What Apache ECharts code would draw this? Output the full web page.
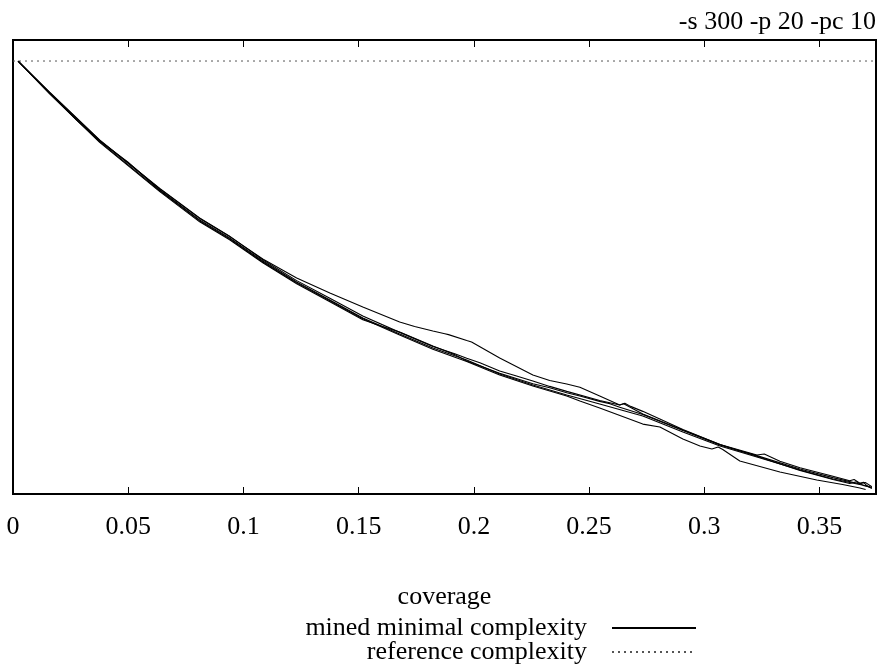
<!DOCTYPE html>
<html>
<head>
<meta charset="utf-8">
<script src="https://cdn.jsdelivr.net/npm/echarts@6/dist/echarts.min.js"></script>
<style>
html,body{margin:0;padding:0;background:#fff;}
#chart{width:877px;height:664px;}
</style>
</head>
<body>
<div id="chart"></div>
<script>
// ---- data ----
var titleText = '-s 300 -p 20 -pc 10';
var xAxisName = 'coverage';
var minedName = 'mined minimal complexity';
var refName = 'reference complexity';
var xTickLabels = ['0', '0.05', '0.1', '0.15', '0.2', '0.25', '0.3', '0.35'];
var xTickStep = 0.05;
var xMax = 0.3745;
var yMax = 100;

var referenceComplexity = 95.37;

// five mined runs: [coverage, complexity]
var run1 = [[0.0022,95.37],[0.0159,88.33],[0.0276,82.38],[0.0376,77.75],[0.0498,73.13],[0.0637,66.96],[0.0810,60.35],[0.0940,56.39],[0.1084,51.32],[0.1231,46.70],[0.1375,42.73],[0.1518,38.77],[0.1678,35.24],[0.1822,32.16],[0.1969,29.52],[0.2112,26.43],[0.2256,24.01],[0.2403,21.81],[0.2546,19.82],[0.2655,18.30],[0.2733,17.18],[0.2907,13.66],[0.3068,10.57],[0.3228,8.15],[0.3415,5.29],[0.3558,3.30],[0.3706,1.76],[0.3727,1.20]];
var run2 = [[0.0022,95.37],[0.0159,88.15],[0.0376,77.45],[0.0637,66.60],[0.0810,59.95],[0.0940,56.00],[0.1084,50.95],[0.1231,46.30],[0.1375,42.35],[0.1518,38.40],[0.1600,36.95],[0.1678,35.70],[0.1822,32.60],[0.1917,30.70],[0.1969,29.30],[0.2112,26.60],[0.2256,24.30],[0.2329,23.40],[0.2403,22.30],[0.2460,21.60],[0.2546,20.40],[0.2590,19.90],[0.2633,19.10],[0.2733,17.50],[0.2907,14.00],[0.3068,10.80],[0.3154,9.50],[0.3228,8.45],[0.3415,5.50],[0.3558,3.60],[0.3675,2.20],[0.3690,2.60],[0.3706,1.80],[0.3727,1.40]];
var run3 = [[0.0022,95.37],[0.0159,88.50],[0.0376,78.00],[0.0637,67.30],[0.0810,60.80],[0.0940,56.80],[0.1084,51.60],[0.1231,47.00],[0.1375,43.10],[0.1518,39.20],[0.1678,35.60],[0.1822,32.50],[0.1917,30.90],[0.1969,29.90],[0.2026,28.90],[0.2112,27.10],[0.2178,26.10],[0.2256,24.90],[0.2329,23.70],[0.2403,22.60],[0.2546,20.60],[0.2633,19.60],[0.2655,20.00],[0.2680,19.30],[0.2733,18.20],[0.2807,16.50],[0.2907,14.20],[0.3068,10.90],[0.3228,8.60],[0.3260,8.80],[0.3328,7.20],[0.3415,5.80],[0.3558,3.90],[0.3631,2.90],[0.3650,3.20],[0.3675,2.40],[0.3700,2.50],[0.3727,1.60]];
var run4 = [[0.0022,95.37],[0.0159,88.40],[0.0376,77.90],[0.0637,67.20],[0.0810,60.70],[0.0940,56.70],[0.1084,51.76],[0.1231,47.58],[0.1375,44.27],[0.1518,41.19],[0.1678,37.89],[0.1743,36.90],[0.1822,35.90],[0.1874,35.30],[0.1880,35.60],[0.1890,35.10],[0.1969,33.80],[0.1976,34.20],[0.1990,33.50],[0.2112,29.96],[0.2256,26.21],[0.2329,25.00],[0.2403,24.23],[0.2460,23.50],[0.2546,21.59],[0.2633,19.60],[0.2650,19.90],[0.2733,17.62],[0.2907,14.10],[0.3068,10.90],[0.3228,8.30],[0.3415,5.20],[0.3558,3.20],[0.3631,2.30],[0.3660,2.70],[0.3690,1.90],[0.3720,1.50]];
var run5 = [[0.0022,95.37],[0.0159,88.25],[0.0376,77.60],[0.0637,66.80],[0.0810,60.15],[0.0940,56.20],[0.1084,51.10],[0.1231,46.50],[0.1375,42.55],[0.1518,38.60],[0.1678,35.00],[0.1822,31.90],[0.1969,29.20],[0.2112,26.20],[0.2256,23.80],[0.2403,21.60],[0.2460,20.48],[0.2546,18.94],[0.2733,15.40],[0.2807,14.76],[0.2907,12.11],[0.2981,10.57],[0.3033,9.91],[0.3060,10.35],[0.3080,9.80],[0.3154,7.27],[0.3328,4.85],[0.3488,3.08],[0.3600,2.10],[0.3675,1.32],[0.3700,1.00]];

var runs = [run1, run2, run3, run4, run5];

// ---- chart ----
var FONT = '"Liberation Serif", "DejaVu Serif", serif';
var FS = 26;
var chart = echarts.init(document.getElementById('chart'), null, {renderer: 'canvas'});

function tickLabel(v) {
  for (var i = 0; i < xTickLabels.length; i++) {
    if (Math.abs(v - i * xTickStep) < 1e-9) return xTickLabels[i];
  }
  return '';
}

var series = runs.map(function (r) {
  return {
    name: minedName,
    type: 'line',
    data: r,
    showSymbol: false,
    symbol: 'none',
    animation: false,
    lineStyle: {color: '#000', width: 1.1},
    itemStyle: {color: '#000'},
    z: 3
  };
});
series.push({
  name: refName,
  type: 'line',
  data: [[0, referenceComplexity], [xMax, referenceComplexity]],
  showSymbol: false,
  symbol: 'none',
  animation: false,
  lineStyle: {color: '#555', width: 1, type: [2, 4]},
  itemStyle: {color: '#555'},
  z: 2
});

function legendFor(name, top) {
  return {
    data: [name],
    right: 180, top: top,
    padding: 0,
    align: 'right',
    itemWidth: 84, itemHeight: 14,
    itemStyle: {opacity: 0},
    textStyle: {fontFamily: FONT, fontSize: FS, color: '#000', padding: [0, 20, 0, 0]},
    selectedMode: false
  };
}

var option = {
  backgroundColor: '#fff',
  animation: false,
  title: {
    text: titleText,
    right: 1,
    top: 9,
    padding: 0,
    textStyle: {fontFamily: FONT, fontSize: FS, fontWeight: 'normal', color: '#000'}
  },
  grid: {
    left: 13, top: 40, right: 1, bottom: 170,
    show: true, borderColor: '#000', borderWidth: 2, backgroundColor: 'transparent'
  },
  legend: [legendFor(minedName, 615), legendFor(refName, 639)],
  xAxis: [
    {
      type: 'value', position: 'bottom',
      min: 0, max: xMax, interval: xTickStep,
      name: xAxisName, nameLocation: 'middle', nameGap: 90,
      nameTextStyle: {fontFamily: FONT, fontSize: FS, color: '#000'},
      axisLine: {show: false},
      axisTick: {show: true, inside: true, length: 7, lineStyle: {color: '#000', width: 1}},
      axisLabel: {show: true, margin: 20, fontFamily: FONT, fontSize: FS, color: '#000',
                  formatter: tickLabel, showMaxLabel: false},
      splitLine: {show: false}
    },
    {
      type: 'value', position: 'top',
      min: 0, max: xMax, interval: xTickStep,
      axisLine: {show: false},
      axisTick: {show: true, inside: true, length: 7, lineStyle: {color: '#000', width: 1}},
      axisLabel: {show: false},
      splitLine: {show: false}
    }
  ],
  yAxis: {
    type: 'value', min: 0, max: yMax,
    axisLine: {show: false}, axisTick: {show: false}, axisLabel: {show: false},
    splitLine: {show: false}
  },
  series: series
};
chart.setOption(option);
</script>
</body>
</html>
